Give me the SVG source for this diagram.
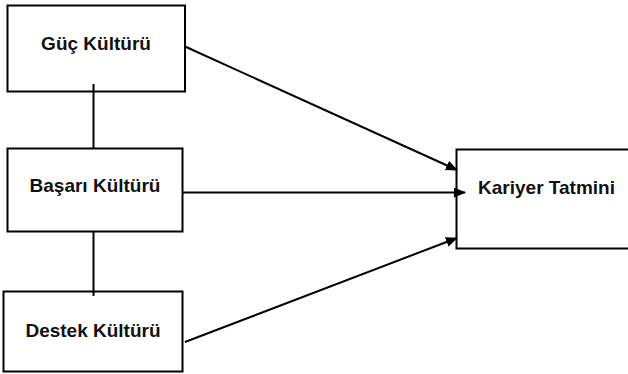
<svg xmlns="http://www.w3.org/2000/svg" width="628" height="374" viewBox="0 0 628 374">
<style>
.box{fill:#fff;stroke:#000;stroke-width:2}
.lbl{font-family:"Liberation Sans",Arial,sans-serif;font-weight:bold;font-size:19px;fill:#111;text-anchor:middle}
.ln{stroke:#000;stroke-width:2;fill:none}
</style>
<defs>
<marker id="ah" markerWidth="12" markerHeight="10" refX="11" refY="5" orient="auto" markerUnits="userSpaceOnUse">
<path d="M0,0 L12,5 L0,10 Z" fill="#000"/>
</marker>
</defs>
<rect width="628" height="374" fill="#fff"/>
<g id="guc">
<rect class="box" x="7.5" y="5.5" width="177.5" height="86"/>
<text class="lbl" x="96" y="49.5">Güç Kültürü</text>
</g>
<g id="basari">
<rect class="box" x="7.5" y="148.5" width="175" height="83"/>
<text class="lbl" x="95" y="192">Başarı Kültürü</text>
</g>
<g id="destek">
<rect class="box" x="3.5" y="291.5" width="179" height="80"/>
<text class="lbl" x="93" y="337">Destek Kültürü</text>
</g>
<g id="kariyer">
<rect class="box" x="456.5" y="149.5" width="180" height="99"/>
<text class="lbl" x="546.5" y="194">Kariyer Tatmini</text>
</g>
<g id="connectors">
<line class="ln" x1="93.5" y1="84" x2="93.5" y2="148.5"/>
<line class="ln" x1="93.5" y1="231.5" x2="93.5" y2="296"/>
<line class="ln" x1="185" y1="46.5" x2="457" y2="170" marker-end="url(#ah)"/>
<line class="ln" x1="182.5" y1="192.5" x2="465" y2="192.5" marker-end="url(#ah)"/>
<line class="ln" x1="185" y1="342" x2="457" y2="238" marker-end="url(#ah)"/>
</g>
</svg>
